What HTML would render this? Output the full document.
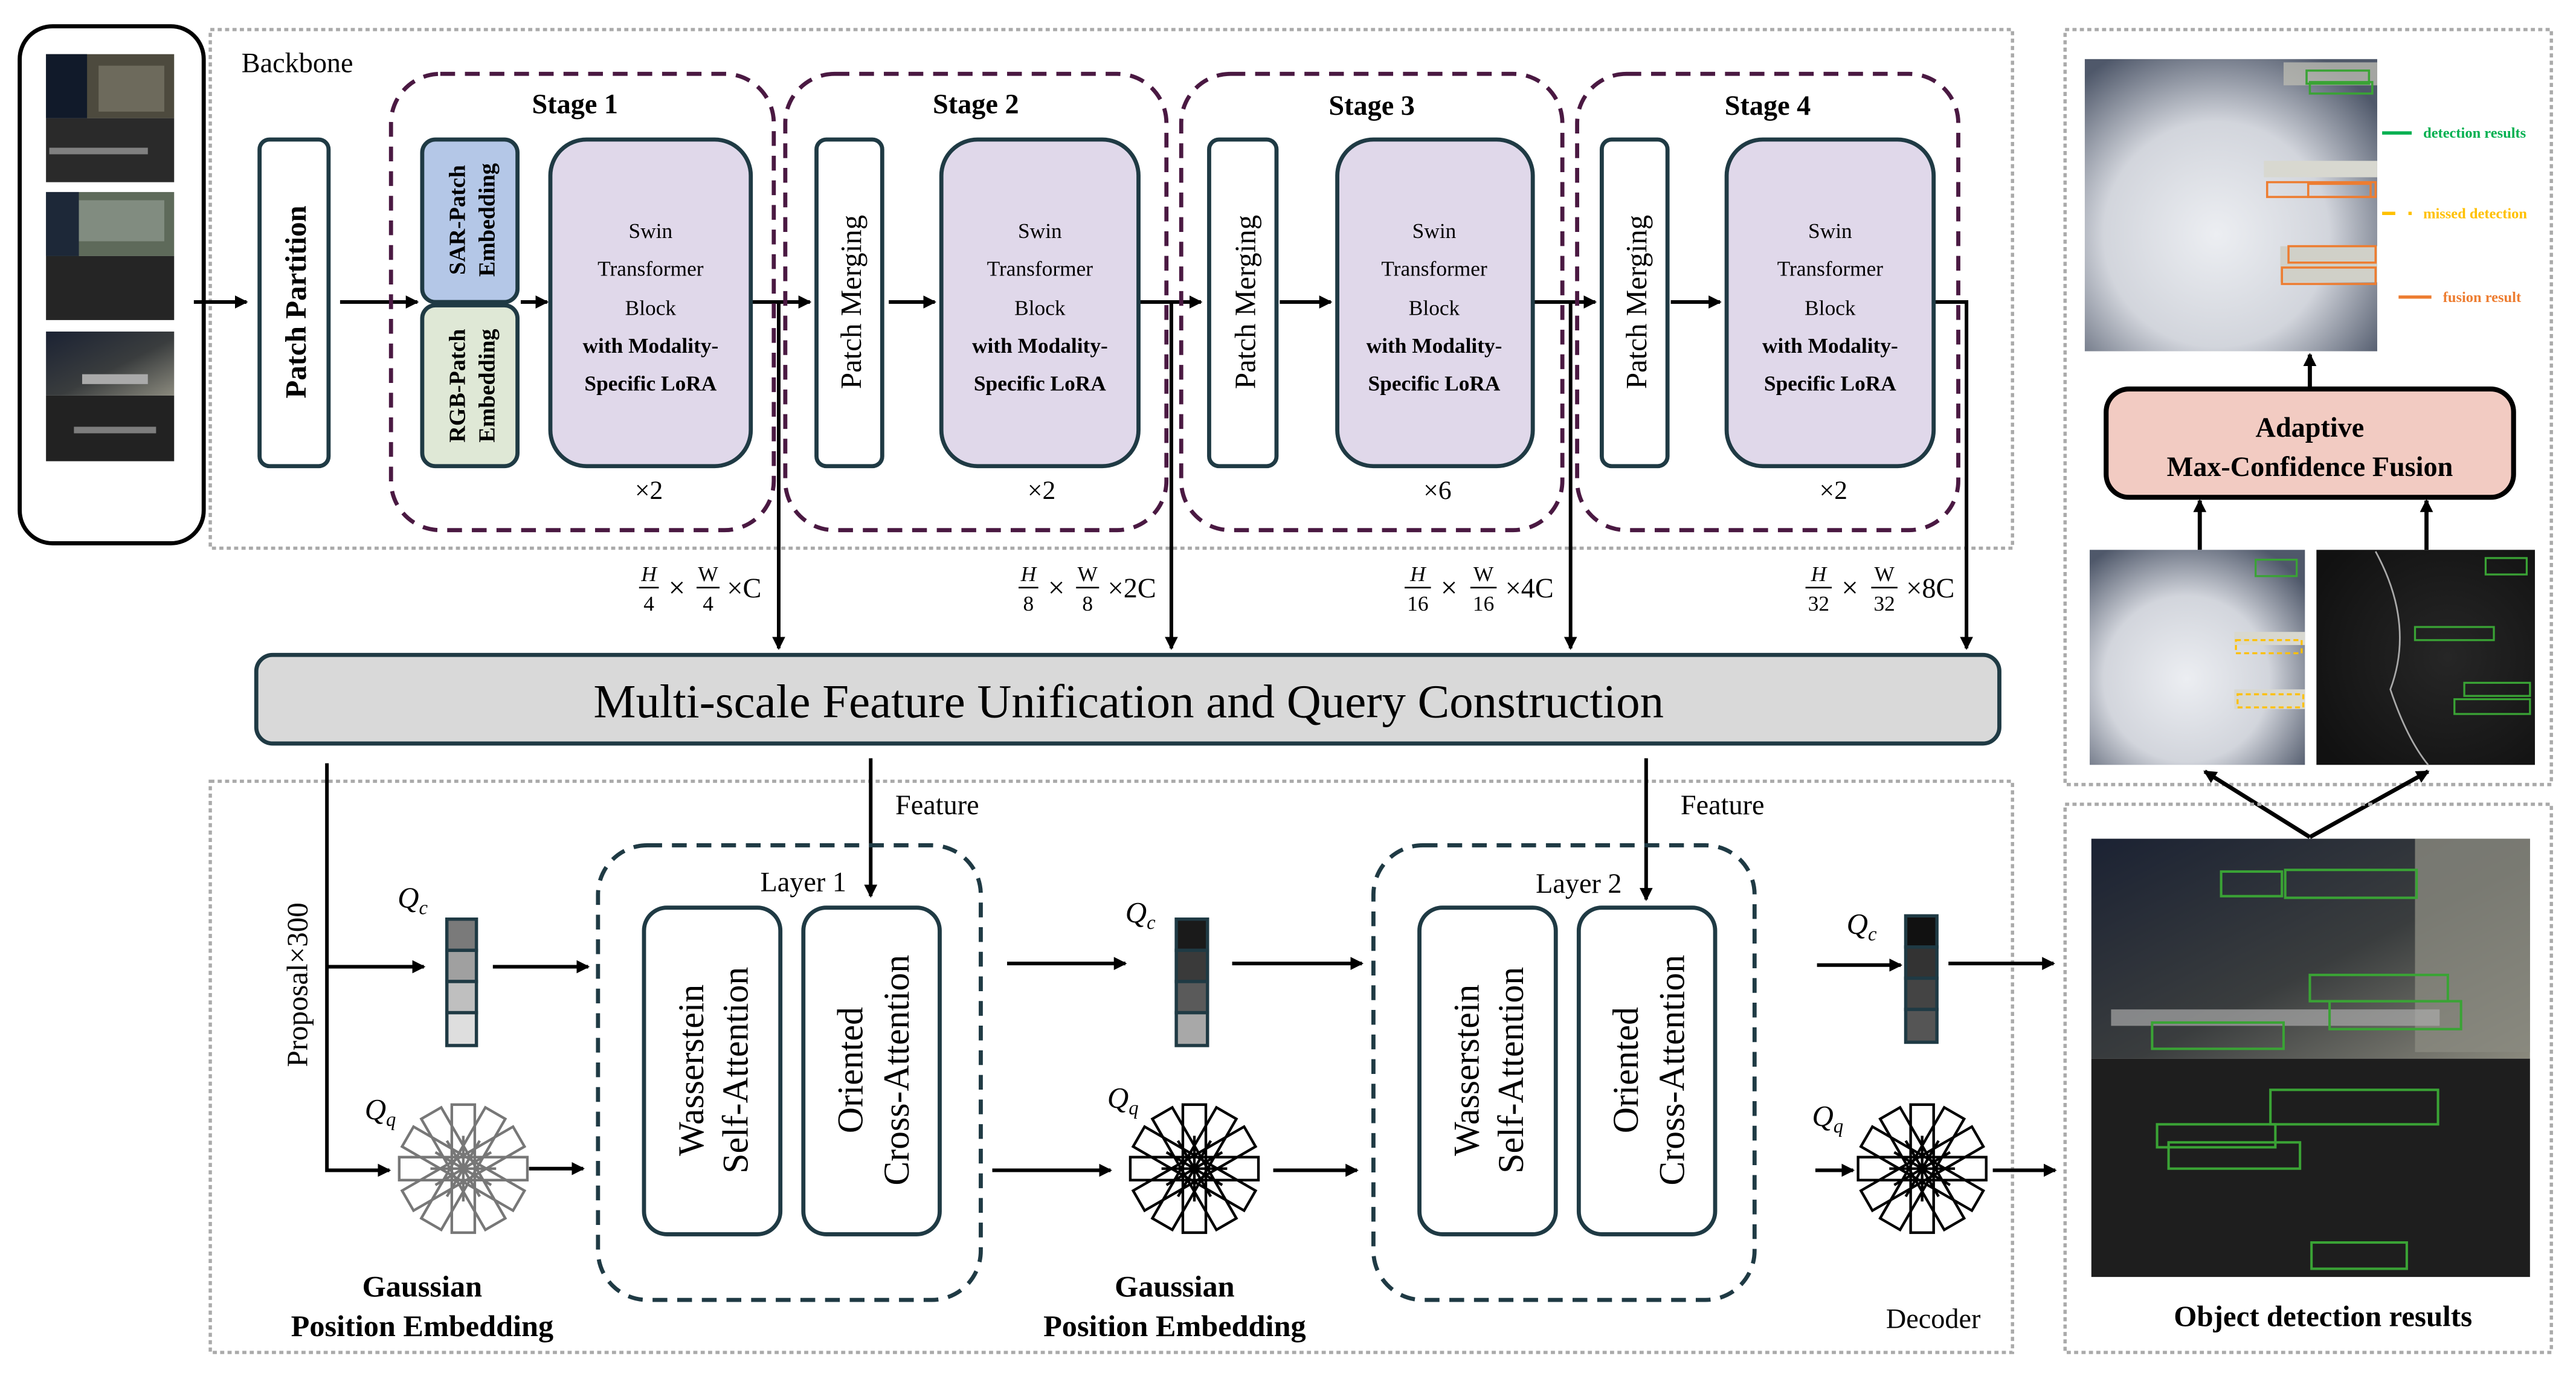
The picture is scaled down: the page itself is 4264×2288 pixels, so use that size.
<!DOCTYPE html>
<html><head><meta charset="utf-8"><style>
html,body{margin:0;padding:0;background:#fff;}
svg{display:block;}
text{font-family:"Liberation Serif",serif;fill:#000;}
</style></head><body>
<svg width="4264" height="2288" viewBox="0 0 1568 842" preserveAspectRatio="none" xmlns="http://www.w3.org/2000/svg">
<defs>
<marker id="ah" markerWidth="8" markerHeight="8" refX="7" refY="4" orient="auto" markerUnits="userSpaceOnUse"><path d="M0,0 L8,4 L0,8 z" fill="#000"/></marker>
<radialGradient id="cloud" cx="0.45" cy="0.6" r="0.7"><stop offset="0" stop-color="#eceef2"/><stop offset="0.55" stop-color="#d2d5dc"/><stop offset="1" stop-color="#4f586a"/></radialGradient>
<radialGradient id="sar" cx="0.6" cy="0.5" r="0.7"><stop offset="0" stop-color="#262626"/><stop offset="1" stop-color="#111"/></radialGradient>
<linearGradient id="rgb" x1="0" y1="0" x2="1" y2="1"><stop offset="0" stop-color="#1b2233"/><stop offset="0.55" stop-color="#3a3d3e"/><stop offset="1" stop-color="#8b8a7e"/></linearGradient>
<g id="star"><rect x="-39" y="-7" width="78" height="14"/><rect x="-39" y="-7" width="78" height="14" transform="rotate(30)"/><rect x="-39" y="-7" width="78" height="14" transform="rotate(60)"/><rect x="-39" y="-7" width="78" height="14" transform="rotate(90)"/><rect x="-39" y="-7" width="78" height="14" transform="rotate(120)"/><rect x="-39" y="-7" width="78" height="14" transform="rotate(150)"/>
<path d="M-20,0 L20,0 M0,-20 L0,20 M-17,-10 L17,10 M-17,10 L17,-10 M-10,-17 L10,17 M-10,17 L10,-17"/></g>
</defs>

<!-- input images box -->
<rect x="12" y="16" width="112" height="315" rx="20" fill="#fff" stroke="#000" stroke-width="2.5"/>
<rect x="28" y="33" width="78" height="39" fill="#4d4a3e"/><rect x="28" y="72" width="78" height="39" fill="#2a2a2a"/>
<rect x="28" y="33" width="25" height="39" fill="#111a2a"/>
<rect x="28" y="117" width="78" height="39" fill="#5e6a5a"/><rect x="28" y="156" width="78" height="39" fill="#252525"/>
<rect x="28" y="117" width="20" height="39" fill="#1d2838"/>
<rect x="28" y="202" width="78" height="39" fill="url(#rgb)"/><rect x="28" y="241" width="78" height="40" fill="#222"/>
<rect x="60" y="40" width="40" height="28" fill="#7a776a" opacity="0.7"/><rect x="48" y="122" width="52" height="25" fill="#9aa39a" opacity="0.6"/>
<rect x="50" y="228" width="40" height="6" fill="#aaa"/><rect x="30" y="90" width="60" height="4" fill="#bbb" opacity="0.6"/><rect x="45" y="260" width="50" height="4" fill="#bbb" opacity="0.6"/>

<!-- backbone box -->
<rect x="128" y="18" width="1097" height="316" fill="none" stroke="#aaa" stroke-width="2" stroke-dasharray="2.5 2"/>
<text x="147" y="44" font-size="17">Backbone</text>

<g stroke="#000" stroke-width="2.2" fill="none">
<line x1="118" y1="184" x2="150" y2="184" marker-end="url(#ah)"/>
<line x1="207" y1="184" x2="254" y2="184" marker-end="url(#ah)"/>
<line x1="317" y1="184" x2="333" y2="184" marker-end="url(#ah)"/>
<line x1="457" y1="184" x2="493" y2="184" marker-end="url(#ah)"/>
<line x1="474" y1="184" x2="474" y2="395" marker-end="url(#ah)"/>
<line x1="541" y1="184" x2="569" y2="184" marker-end="url(#ah)"/>
<line x1="693" y1="184" x2="731" y2="184" marker-end="url(#ah)"/>
<line x1="713" y1="184" x2="713" y2="395" marker-end="url(#ah)"/>
<line x1="779" y1="184" x2="810" y2="184" marker-end="url(#ah)"/>
<line x1="933" y1="184" x2="971" y2="184" marker-end="url(#ah)"/>
<line x1="956" y1="184" x2="956" y2="395" marker-end="url(#ah)"/>
<line x1="1017" y1="184" x2="1047" y2="184" marker-end="url(#ah)"/>
<polyline points="1177,184 1197,184 1197,395" marker-end="url(#ah)"/>
</g>

<!-- patch partition -->
<rect x="158" y="85" width="42" height="199" rx="6" fill="#fff" stroke="#1f3a44" stroke-width="2.5"/>
<text transform="translate(186,184) rotate(-90)" text-anchor="middle" font-size="18" font-weight="bold">Patch Partition</text>

<!-- stages -->
<g fill="none" stroke="#4a1942" stroke-width="2.5" stroke-dasharray="9 6">
<rect x="238" y="45" width="233" height="278" rx="30"/>
<rect x="478" y="45" width="232" height="278" rx="30"/>
<rect x="719" y="45" width="232" height="278" rx="30"/>
<rect x="960" y="45" width="232" height="278" rx="30"/>
</g>
<g font-size="17" font-weight="bold" text-anchor="middle">
<text x="350" y="69">Stage 1</text><text x="594" y="69">Stage 2</text><text x="835" y="70">Stage 3</text><text x="1076" y="70">Stage 4</text>
</g>

<rect x="257" y="85" width="58" height="99" rx="8" fill="#b4c7e7" stroke="#1f3a44" stroke-width="2.5"/>
<rect x="257" y="186" width="58" height="98" rx="8" fill="#dfe8d6" stroke="#1f3a44" stroke-width="2.5"/>
<g font-size="14" font-weight="bold" text-anchor="middle">
<text transform="translate(283,134) rotate(-90)">SAR-Patch</text><text transform="translate(301,134) rotate(-90)">Embedding</text>
<text transform="translate(283,235) rotate(-90)">RGB-Patch</text><text transform="translate(301,235) rotate(-90)">Embedding</text>
</g>

<g fill="#fff" stroke="#1f3a44" stroke-width="2.5">
<rect x="497" y="85" width="40" height="199" rx="6"/>
<rect x="736" y="85" width="41" height="199" rx="6"/>
<rect x="975" y="85" width="40" height="199" rx="6"/>
</g>
<g font-size="18" text-anchor="middle">
<text transform="translate(524,184) rotate(-90)">Patch Merging</text>
<text transform="translate(764,184) rotate(-90)">Patch Merging</text>
<text transform="translate(1002,184) rotate(-90)">Patch Merging</text>
</g>

<g fill="#e0d8ea" stroke="#1f3a44" stroke-width="2.5">
<rect x="335" y="85" width="122" height="199" rx="22"/>
<rect x="573" y="85" width="120" height="199" rx="22"/>
<rect x="814" y="85" width="119" height="199" rx="22"/>
<rect x="1051" y="85" width="126" height="199" rx="22"/>
</g>
<g font-size="13" text-anchor="middle">
<text x="396" y="145">Swin</text><text x="396" y="168">Transformer</text><text x="396" y="192">Block</text>
<text x="396" y="215" font-weight="bold">with Modality-</text><text x="396" y="238" font-weight="bold">Specific LoRA</text>
<text x="633" y="145">Swin</text><text x="633" y="168">Transformer</text><text x="633" y="192">Block</text>
<text x="633" y="215" font-weight="bold">with Modality-</text><text x="633" y="238" font-weight="bold">Specific LoRA</text>
<text x="873" y="145">Swin</text><text x="873" y="168">Transformer</text><text x="873" y="192">Block</text>
<text x="873" y="215" font-weight="bold">with Modality-</text><text x="873" y="238" font-weight="bold">Specific LoRA</text>
<text x="1114" y="145">Swin</text><text x="1114" y="168">Transformer</text><text x="1114" y="192">Block</text>
<text x="1114" y="215" font-weight="bold">with Modality-</text><text x="1114" y="238" font-weight="bold">Specific LoRA</text>
</g>
<g font-size="16" text-anchor="middle">
<text x="395" y="304">×2</text><text x="634" y="304">×2</text><text x="875" y="304">×6</text><text x="1116" y="304">×2</text>
</g>

<!-- formulas -->
<g font-size="13" text-anchor="middle">
<text x="395" y="354" font-style="italic">H</text><line x1="389" y1="358" x2="401" y2="358" stroke="#000"/><text x="395" y="372">4</text>
<text x="412" y="364" font-size="18">×</text>
<text x="431" y="354">W</text><line x1="424" y1="358" x2="438" y2="358" stroke="#000"/><text x="431" y="372">4</text>
<text x="453" y="364" font-size="17">×C</text>

<text x="626" y="354" font-style="italic">H</text><line x1="620" y1="358" x2="632" y2="358" stroke="#000"/><text x="626" y="372">8</text>
<text x="643" y="364" font-size="18">×</text>
<text x="662" y="354">W</text><line x1="655" y1="358" x2="669" y2="358" stroke="#000"/><text x="662" y="372">8</text>
<text x="689" y="364" font-size="17">×2C</text>

<text x="863" y="354" font-style="italic">H</text><line x1="855" y1="358" x2="871" y2="358" stroke="#000"/><text x="863" y="372">16</text>
<text x="882" y="364" font-size="18">×</text>
<text x="903" y="354">W</text><line x1="895" y1="358" x2="911" y2="358" stroke="#000"/><text x="903" y="372">16</text>
<text x="931" y="364" font-size="17">×4C</text>

<text x="1107" y="354" font-style="italic">H</text><line x1="1099" y1="358" x2="1115" y2="358" stroke="#000"/><text x="1107" y="372">32</text>
<text x="1126" y="364" font-size="18">×</text>
<text x="1147" y="354">W</text><line x1="1139" y1="358" x2="1155" y2="358" stroke="#000"/><text x="1147" y="372">32</text>
<text x="1175" y="364" font-size="17">×8C</text>
</g>

<!-- multi-scale bar -->
<rect x="156" y="399" width="1061" height="54" rx="10" fill="#d9d9d9" stroke="#1f3a44" stroke-width="2.5"/>
<text x="687" y="437" font-size="29" text-anchor="middle">Multi-scale Feature Unification and Query Construction</text>

<!-- decoder box -->
<rect x="128" y="476" width="1097" height="348" fill="none" stroke="#aaa" stroke-width="2" stroke-dasharray="2.5 2"/>
<text x="1148" y="809" font-size="17">Decoder</text>

<g stroke="#000" stroke-width="2.2" fill="none">
<polyline points="199,465 199,713 237,713" marker-end="url(#ah)"/>
<line x1="199" y1="589" x2="258" y2="589" marker-end="url(#ah)"/>
<line x1="530" y1="462" x2="530" y2="546" marker-end="url(#ah)"/>
<line x1="1002" y1="462" x2="1002" y2="548" marker-end="url(#ah)"/>
<line x1="300" y1="589" x2="358" y2="589" marker-end="url(#ah)"/>
<line x1="322" y1="712" x2="355" y2="712" marker-end="url(#ah)"/>
<line x1="613" y1="587" x2="685" y2="587" marker-end="url(#ah)"/>
<line x1="750" y1="587" x2="829" y2="587" marker-end="url(#ah)"/>
<line x1="604" y1="713" x2="676" y2="713" marker-end="url(#ah)"/>
<line x1="775" y1="713" x2="826" y2="713" marker-end="url(#ah)"/>
<line x1="1106" y1="588" x2="1157" y2="588" marker-end="url(#ah)"/>
<line x1="1186" y1="587" x2="1250" y2="587" marker-end="url(#ah)"/>
<line x1="1105" y1="713" x2="1128" y2="713" marker-end="url(#ah)"/>
<line x1="1213" y1="713" x2="1251" y2="713" marker-end="url(#ah)"/>
</g>
<text transform="translate(187,600) rotate(-90)" text-anchor="middle" font-size="18">Proposal×300</text>
<text x="545" y="496" font-size="17">Feature</text>
<text x="1023" y="496" font-size="17">Feature</text>

<!-- Qc bars -->
<g font-size="18" font-style="italic">
<text x="242" y="553">Q<tspan font-size="12" dy="4">c</tspan></text>
<text x="685" y="562">Q<tspan font-size="12" dy="4">c</tspan></text>
<text x="1124" y="569">Q<tspan font-size="12" dy="4">c</tspan></text>
<text x="222" y="682">Q<tspan font-size="12" dy="4">q</tspan></text>
<text x="674" y="675">Q<tspan font-size="12" dy="4">q</tspan></text>
<text x="1103" y="686">Q<tspan font-size="12" dy="4">q</tspan></text>
</g>
<g stroke="#1f3a44" stroke-width="2">
<rect x="272" y="560" width="18" height="19" fill="#7a7a7a"/><rect x="272" y="579" width="18" height="19" fill="#a0a0a0"/><rect x="272" y="598" width="18" height="19" fill="#bfbfbf"/><rect x="272" y="617" width="18" height="20" fill="#dedede"/>
<rect x="716" y="560" width="19" height="19" fill="#1a1a1a"/><rect x="716" y="579" width="19" height="19" fill="#3a3a3a"/><rect x="716" y="598" width="19" height="19" fill="#5a5a5a"/><rect x="716" y="617" width="19" height="20" fill="#a8a8a8"/>
<rect x="1160" y="558" width="19" height="19" fill="#111"/><rect x="1160" y="577" width="19" height="19" fill="#333"/><rect x="1160" y="596" width="19" height="19" fill="#444"/><rect x="1160" y="615" width="19" height="20" fill="#555"/>
</g>
<use href="#star" x="282" y="712" fill="none" stroke="#777" stroke-width="1.6"/>
<use href="#star" x="727" y="712" fill="none" stroke="#000" stroke-width="1.6"/>
<use href="#star" x="1170" y="712" fill="none" stroke="#000" stroke-width="1.6"/>

<g font-size="18.5" font-weight="bold" text-anchor="middle">
<text x="257" y="790">Gaussian</text><text x="257" y="814">Position Embedding</text>
<text x="715" y="790">Gaussian</text><text x="715" y="814">Position Embedding</text>
</g>

<!-- layers -->
<g fill="none" stroke="#1f3a44" stroke-width="2.5" stroke-dasharray="9 6">
<rect x="364" y="515" width="233" height="277" rx="30"/>
<rect x="836" y="515" width="232" height="277" rx="30"/>
</g>
<text x="489" y="543" font-size="17" text-anchor="middle">Layer 1</text>
<text x="961" y="544" font-size="17" text-anchor="middle">Layer 2</text>
<g fill="#fff" stroke="#1f3a44" stroke-width="2.5">
<rect x="392" y="553" width="83" height="199" rx="14"/><rect x="489" y="553" width="83" height="199" rx="14"/>
<rect x="864" y="553" width="83" height="199" rx="14"/><rect x="961" y="553" width="83" height="199" rx="14"/>
</g>
<g font-size="22" text-anchor="middle">
<text transform="translate(428,652) rotate(-90)">Wasserstein</text><text transform="translate(455,652) rotate(-90)">Self-Attention</text>
<text transform="translate(525,652) rotate(-90)">Oriented</text><text transform="translate(553,652) rotate(-90)">Cross-Attention</text>
<text transform="translate(900,652) rotate(-90)">Wasserstein</text><text transform="translate(927,652) rotate(-90)">Self-Attention</text>
<text transform="translate(997,652) rotate(-90)">Oriented</text><text transform="translate(1025,652) rotate(-90)">Cross-Attention</text>
</g>

<!-- right top panel -->
<rect x="1257" y="18" width="296" height="460" fill="none" stroke="#aaa" stroke-width="2" stroke-dasharray="2.5 2"/>
<rect x="1269" y="36" width="178" height="178" fill="url(#cloud)"/>
<rect x="1390" y="38" width="57" height="14" fill="#b9b9b0" opacity="0.8"/><rect x="1378" y="98" width="69" height="10" fill="#d8d8d0"/><rect x="1388" y="150" width="59" height="22" fill="#d0d0c8"/>
<g fill="none" stroke-width="1.3">
<rect x="1404" y="43" width="38" height="8" stroke="#3aa335"/><rect x="1406" y="50" width="38" height="7" stroke="#3aa335"/>
<rect x="1380" y="111" width="66" height="9" stroke="#ed7d31"/><rect x="1405" y="112" width="38" height="8" stroke="#ed7d31"/>
<rect x="1393" y="150" width="53" height="10" stroke="#ed7d31"/><rect x="1389" y="163" width="57" height="10" stroke="#ed7d31"/>
</g>
<line x1="1450" y1="81" x2="1468" y2="81" stroke="#00b050" stroke-width="2"/>
<text x="1475" y="84" font-size="9" font-weight="bold" style="fill:#00b050">detection results</text>
<line x1="1450" y1="130" x2="1468" y2="130" stroke="#ffc000" stroke-width="2" stroke-dasharray="8 8"/>
<text x="1475" y="133" font-size="9" font-weight="bold" style="fill:#ffc000">missed detection</text>
<line x1="1460" y1="181" x2="1480" y2="181" stroke="#ed7d31" stroke-width="2"/>
<text x="1487" y="184" font-size="9" font-weight="bold" style="fill:#ed7d31">fusion result</text>

<g stroke="#000" stroke-width="2.5" fill="none">
<line x1="1406" y1="237" x2="1406" y2="216" marker-end="url(#ah)"/>
<line x1="1339" y1="335" x2="1339" y2="305" marker-end="url(#ah)"/>
<line x1="1477" y1="335" x2="1477" y2="305" marker-end="url(#ah)"/>
<line x1="1406" y1="510" x2="1342" y2="470" marker-end="url(#ah)"/>
<line x1="1406" y1="510" x2="1478" y2="470" marker-end="url(#ah)"/>
</g>
<rect x="1282" y="237" width="248" height="66" rx="14" fill="#f2cbc2" stroke="#000" stroke-width="3"/>
<text x="1406" y="266" font-size="17" font-weight="bold" text-anchor="middle">Adaptive</text>
<text x="1406" y="290" font-size="17" font-weight="bold" text-anchor="middle">Max-Confidence Fusion</text>

<rect x="1272" y="335" width="131" height="131" fill="url(#cloud)"/>
<rect x="1360" y="385" width="43" height="8" fill="#d8d8d0"/><rect x="1360" y="420" width="43" height="12" fill="#d8d8d0"/>
<g fill="none" stroke-width="1.2">
<rect x="1373" y="341" width="25" height="10" stroke="#3aa335"/>
<rect x="1361" y="390" width="40" height="8" stroke="#ffc000" stroke-dasharray="3 2"/><rect x="1362" y="423" width="40" height="8" stroke="#ffc000" stroke-dasharray="3 2"/>
</g>
<rect x="1410" y="335" width="133" height="131" fill="url(#sar)"/>
<path d="M1446,336 Q1470,380 1455,420 Q1465,450 1478,466" stroke="#aaa" stroke-width="1" fill="none"/>
<g fill="none" stroke="#3aa335" stroke-width="1.2">
<rect x="1513" y="340" width="25" height="10"/><rect x="1470" y="382" width="48" height="8"/><rect x="1500" y="416" width="40" height="8"/><rect x="1494" y="426" width="46" height="9"/>
</g>

<!-- bottom right -->
<rect x="1257" y="490" width="296" height="334" fill="none" stroke="#aaa" stroke-width="2" stroke-dasharray="2.5 2"/>
<rect x="1273" y="511" width="267" height="134" fill="url(#rgb)"/>
<rect x="1273" y="645" width="267" height="133" fill="#1e1e1e"/>
<rect x="1470" y="511" width="70" height="130" fill="#8a8a7f" opacity="0.8"/>
<rect x="1285" y="615" width="200" height="10" fill="#aaa" opacity="0.7"/>
<g fill="none" stroke="#3aa335" stroke-width="1.5">
<rect x="1352" y="531" width="37" height="15"/><rect x="1391" y="530" width="80" height="17"/>
<rect x="1406" y="594" width="84" height="16"/><rect x="1418" y="610" width="80" height="17"/>
<rect x="1310" y="623" width="80" height="16"/>
<rect x="1382" y="664" width="102" height="21"/><rect x="1313" y="685" width="72" height="14"/><rect x="1320" y="696" width="80" height="16"/>
<rect x="1407" y="757" width="58" height="16"/>
</g>
<text x="1414" y="808" font-size="18" font-weight="bold" text-anchor="middle">Object detection results</text>
</svg>
</body></html>
